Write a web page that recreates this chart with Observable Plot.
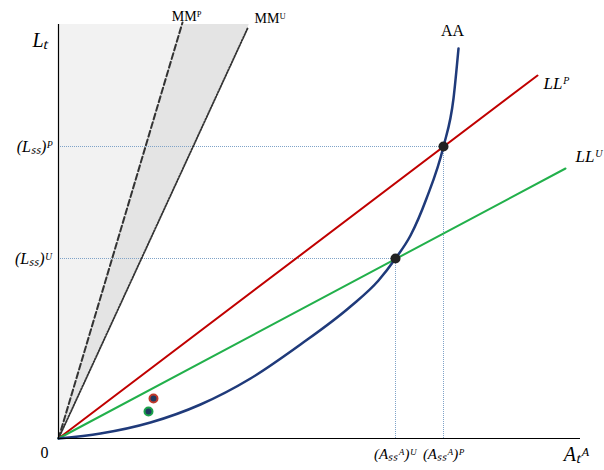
<!DOCTYPE html><html><head><meta charset="utf-8">
<script src="https://cdn.jsdelivr.net/npm/d3@7"></script>
<script src="https://cdn.jsdelivr.net/npm/@observablehq/plot@0.6"></script>
<style>body{margin:0;background:#fff}</style></head><body><div id="c"></div>
<script>
const aa = [[0,0],[42,5],[92,16],[142,34],[192,60],[242,94],[292,132],[320,158],[337,180],[352,203],[368,240],[385,292],[395,340],[400,390]];
const llP = [[0,0],[479,363]];
const llU = [[0,0],[507,270]];
const mmP = [[0,0],[124,416]];
const mmU = [[0,0],[189,410]];
const steady = [[385,292],[337,180]];
const agents = [{x:95,y:40,c:"#c0392b"},{x:90,y:27,c:"#1aa34a"}];
const yTicks = [{y:292,t:"(Lₛₛ)ᴾ"},{y:180,t:"(Lₛₛ)ᵁ"}];
const xTicks = [{x:337,t:"(Aₛₛᴬ)ᵁ"},{x:385,t:"(Aₛₛᴬ)ᴾ"}];
const yTop = 414;
const f = "Liberation Serif, serif";
const ys = [0, yTop];
const chart = Plot.plot({
  width:604, height:470, marginLeft:58, marginBottom:32, marginTop:24, marginRight:24,
  x:{domain:[0,522], axis:null}, y:{domain:[0,414], axis:null},
  style:{fontFamily:f},
  marks:[
    Plot.areaX(ys,{y:d=>d,x1:0,x2:d=>d*124/416,fill:"#f2f2f2"}),
    Plot.areaX(ys,{y:d=>d,x1:d=>d*124/416,x2:d=>d*189/410,fill:"#e4e4e4"}),
    Plot.ruleY(steady,{y:d=>d[1],x1:0,x2:d=>d[0],stroke:"#7fa3c8",strokeDasharray:"1,1"}),
    Plot.ruleX(steady,{x:d=>d[0],y1:0,y2:d=>d[1],stroke:"#7fa3c8",strokeDasharray:"1,1"}),
    Plot.line(mmP,{stroke:"#333",strokeWidth:2,strokeDasharray:"6,3"}),
    Plot.line(mmU,{stroke:"#333",strokeWidth:1.8,strokeDasharray:"1.5,1.5"}),
    Plot.line(llP,{stroke:"#c00000",strokeWidth:2}),
    Plot.line(llU,{stroke:"#22b04b",strokeWidth:2}),
    Plot.line(aa,{curve:"monotone-x",stroke:"#1f3a7a",strokeWidth:2.5}),
    Plot.ruleX([0],{stroke:"#000",strokeWidth:1.2}),
    Plot.ruleY([0],{stroke:"#000",strokeWidth:1.2}),
    Plot.dot(steady,{x:d=>d[0],y:d=>d[1],r:5,fill:"#222"}),
    Plot.dot(agents,{x:"x",y:"y",r:4,fill:"#1f3a5f",stroke:"c",strokeWidth:2}),
    Plot.text(yTicks,{x:0,y:"y",text:"t",dx:-6,textAnchor:"end",fontSize:16,fontStyle:"italic"}),
    Plot.text(xTicks,{x:"x",y:0,text:"t",dy:16,fontSize:15,fontStyle:"italic"}),
    Plot.text(["Lₜ"],{x:0,y:yTop-16,dx:-10,textAnchor:"end",fontSize:20,fontStyle:"italic"}),
    Plot.text(["Aₜᴬ"],{x:522,y:0,dy:16,dx:-4,fontSize:20,fontStyle:"italic"}),
    Plot.text(["0"],{x:0,y:0,dx:-14,dy:14,fontSize:16}),
    Plot.text(["AA"],{x:394,y:yTop,dy:6,fontSize:16}),
    Plot.text(["LLᴾ"],{x:485,y:355,textAnchor:"start",fontSize:17,fontStyle:"italic"}),
    Plot.text(["LLᵁ"],{x:517,y:282,textAnchor:"start",fontSize:17,fontStyle:"italic"}),
    Plot.text(["MMᴾ"],{x:128,y:yTop,dy:-8,fontSize:14}),
    Plot.text(["MMᵁ"],{x:192,y:yTop,dx:4,dy:-6,textAnchor:"start",fontSize:14})
  ]
});
document.getElementById("c").append(chart);
</script></body></html>
